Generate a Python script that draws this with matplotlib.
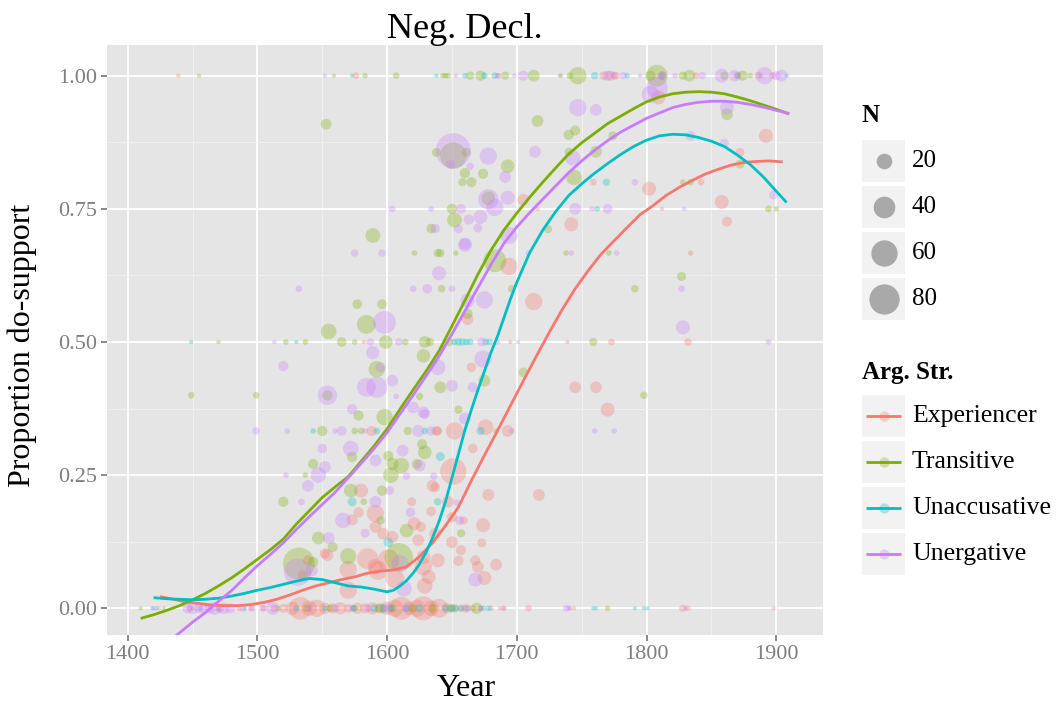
import numpy as np
import matplotlib
matplotlib.use("Agg")
import matplotlib.pyplot as plt
from matplotlib.patches import Rectangle

# ---------------- data ----------------
groups = ["Experiencer", "Transitive", "Unaccusative", "Unergative"]
colors = ["#F8766D", "#7CAE00", "#00BFC4", "#C77CFF"]

# (year, proportion, N) per argument-structure group
experiencer_pts = [
    (1424,0,1),(1448,0,2),(1486,0,2),(1495,0,2),(1505,0,3),(1513,0,4),(1520,0,6),(1527,0,15),(1533,0,45),
    (1540,0,20),(1546,0,25),(1552,0,10),(1558,0,8),(1564,0,12),(1570,0,6),(1577,0,10),(1583,0,8),(1589,0,12),
    (1595,0,8),(1600,0,15),(1606,0,25),(1611,0,45),(1617,0,15),(1623,0,25),(1628,0,50),(1634,0,20),(1640,0,30),
    (1646,0,8),(1652,0,5),(1657,0,4),(1661,0,6),(1666,0,3),(1672,0,2),(1680,0,2),(1687,0,1),(1690,0,2),
    (1709,0,3),(1741,0,1),(1744,0,1),(1828,0,4),(1832,0,2),(1898,0,1),
    (1439,1,1),(1576,1,3),(1686,1,2),(1767,1,6),(1772,1,8),(1776,1,5),(1812,1,6),(1838,1,3),(1870,1,4),
    (1886,1,4),(1897,1,3),
    (1705,.767,11),(1716,.75,1),(1742,.721,16),(1858,.763,16),(1862,.726,8),(1892,.887,16),(1872,.856,6),
    (1809,.959,16),(1802,.788,16),(1759,.8,3),(1842,.8,3),(1812,.75,1),(1834,.667,2),(1832,.5,4),(1739,.5,1),
    (1773,.5,3),(1582,.5,1),(1695,.5,1),(1713,.576,25),(1694,.642,25),(1662,.543,11),(1745,.415,11),
    (1761,.415,11),(1770,.373,16),(1665,.4525,7),(1638,.333,7),(1652,.333,25),(1676,.34,20),(1693,.333,11),
    (1588,.333,8),(1639,.333,6),(1651,.257,60),(1666,.3,7),(1635,.23,11),(1637,.2275,7),(1678,.213,11),
    (1717,.213,11),(1647,.2,11),(1619,.2,6),(1634,.182,7),(1674,.156,16),(1659,.165,5),(1650,.171,8),
    (1650,.124,11),(1673,.123,6),(1657,.109,8),(1639,.09,16),(1655,.089,8),(1668,.09,8),(1670,.078,11),
    (1684,.082,11),(1675,.057,16),(1629,.042,20),(1628,.078,25),(1632,.059,16),(1626,.153,8),(1624,.128,11),
    (1621,.159,14),(1628,.096,16),(1637,.14,11),(1604,.134,11),(1591,.178,25),(1578,.18,8),(1591,.153,11),
    (1597,.14,11),(1573,.166,10),(1554,.1,11),(1570,.073,25),(1585,.093,38),(1591,.078,20),(1570,.034,25),
    (1580,.221,16),(1601,.09,40),(1593,.071,30),(1606,.056,30),(1539,.09,8),(1552,.103,8),(1535,.062,8),
]

transitive_pts = [
    (1410,0,1),(1428,0,1),(1450,0,1),(1470,0,2),(1516,0,2),(1538,0,4),(1556,0,4),(1575,0,3),(1594,0,6),
    (1604,0,5),(1620,0,5),(1635,0,6),(1650,0,5),(1669,0,10),(1770,0,2),
    (1455,1,1),(1559,1,1),(1583,1,2),(1607,1,3),(1643,1,2),(1645,1,2),(1647,1,2),(1664,1,5),(1672,1,8),
    (1691,1,5),(1713,1,11),(1734,1,1),(1741,1,3),(1747,1,25),(1803,1,8),(1808,1,40),(1828,1,5),(1833,1,11),
    (1860,1,5),(1874,1,8),(1880,1,2),
    (1470,.5,1),(1522,.5,2),(1537,.5,2),(1565,.5,7),(1575,.5,2),(1599,.5,15),(1614,.5,3),(1629,.5,11),
    (1633,.5,5),(1648,.5,5),(1759,.5,5),
    (1553,.909,9),(1634,.713,7),(1650,.75,8),(1652,.729,18),(1589,.7,18),(1621,.667,2),(1639,.667,5),
    (1641,.667,5),(1653,.667,2),(1642,.6,4),(1577,.571,7),(1596,.571,7),(1584,.533,30),(1555,.52,20),
    (1449,.4,3),(1499,.4,3),(1554,.4,8),(1550,.333,8),(1575,.333,3),(1580,.333,3),(1616,.333,5),(1684,.333,2),
    (1543,.271,8),(1520,.2,8),(1572,.221,15),(1582,.2,3),(1596,.221,8),(1595,.165,5),(1547,.132,13),
    (1558,.115,8),(1570,.098,22),(1532,.084,90),(1543,.087,8),(1609,.096,70),(1601,.286,8),(1603,.25,20),
    (1611,.268,20),(1623,.271,8),(1627,.308,8),(1629,.293,15),(1615,.146,15),(1655,.373,5),(1628,.474,15),
    (1675,.4275,11),(1641,.415,11),(1705,.443,7),(1798,.4,4),(1657,.141,5),(1716,.915,11),(1745,.897,8),
    (1740,.889,8),(1774,.887,6),(1761,.857,11),(1740,.857,5),(1744,.809,20),(1828,.8,2),(1834,.8,3),
    (1724,.712,5),(1894,.75,3),(1900,.75,2),(1862,.9275,11),(1872,.834,6),(1771,.667,2),(1738,.667,2),
    (1827,.623,6),(1791,.6,4),(1683,.6525,45),(1693,.83,15),(1674,.816,8),(1661,.856,6),(1651,.85,60),
    (1638,.856,6),(1660,.817,8),(1658,.8,5),(1665,.8,8),(1678,.77,15),(1696,.6,4),(1662,.553,8),(1537,.25,2),
    (1592,.449,22),(1625,.398,4),(1578,.362,8),(1598,.359,22),(1573,.284,8),(1604,.271,12),
]

unaccusative_pts = [
    (1419,0,1),(1422,0,1),(1456,0,1),(1490,0,1),(1530,0,2),(1552,0,2),(1574,0,3),(1590,0,4),(1597,0,5),
    (1603,0,3),(1615,0,4),(1625,0,5),(1645,0,3),(1649,0,4),(1653,0,3),(1657,0,2),(1662,0,2),(1674,0,2),
    (1678,0,2),(1759,0,1),(1761,0,1),(1791,0,1),(1798,0,1),(1801,0,1),
    (1573,1,1),(1638,1,1),(1660,1,2),(1675,1,3),(1683,1,3),(1760,1,4),(1785,1,2),(1812,1,2),(1870,1,2),
    (1908,1,1),
    (1449,.5,1),(1530,.5,1),(1652,.5,3),(1655,.5,4),(1658,.5,4),(1661,.5,3),(1664,.5,3),(1676,.5,3),
    (1679,.5,3),
    (1543,.333,2),(1592,.333,3),(1629,.333,3),(1672,.333,5),(1573,.2,6),(1601,.124,7),(1641,.285,6),
    (1639,.2,4),(1769,.8,4),(1762,.75,2),
]

unergative_pts = [
    (1420,0,1),(1446,0,8),(1450,0,11),(1455,0,6),(1459,0,11),(1463,0,8),(1467,0,14),(1471,0,6),(1474,0,11),
    (1479,0,8),(1489,0,4),(1496,0,3),(1504,0,3),(1512,0,14),(1540,0,4),(1560,0,5),(1573,0,3),(1585,0,4),
    (1600,0,6),(1615,0,3),(1660,0,2),(1672,0,2),(1690,0,1),(1738,0,3),(1740,0,2),(1830,0,1),
    (1552,1,1),(1653,1,1),(1685,1,2),(1698,1,1),(1705,1,8),(1733,1,1),(1770,1,8),(1775,1,4),(1782,1,4),
    (1795,1,1),(1812,1,6),(1822,1,2),(1843,1,4),(1858,1,16),(1868,1,11),(1888,1,2),(1891,1,25),(1900,1,6),
    (1904,1,11),
    (1513,.5,1),(1587,.5,4),(1609,.5,4),(1673,.5,6),(1685,.5,2),(1701,.5,1),(1894,.5,2),
    (1604,.75,3),(1634,.75,2),(1657,.75,7),(1745,.75,11),(1758,.75,2),(1770,.75,7),(1829,.75,1),
    (1575,.667,4),(1596,.667,4),(1742,.667,2),(1777,.667,2),(1709,.667,2),
    (1532,.6,3),(1620,.6,3),(1631,.6,7),(1650,.6,3),(1827,.6,3),
    (1499,.333,4),(1523,.333,2),(1560,.333,2),(1565,.333,7),(1583,.333,2),(1624,.333,11),(1634,.333,7),
    (1696,.333,2),(1760,.333,2),(1775,.333,2),
    (1520,.455,8),(1554,.4,32),(1572,.3,20),(1550,.3,7),(1552,.265,11),(1547,.25,20),(1539,.23,11),
    (1522,.25,2),(1534,.2,3),(1591,.2,11),(1602,.221,6),(1566,.165,20),(1583,.141,6),(1555,.132,11),
    (1531,.068,65),(1542,.071,11),(1610,.084,25),(1613,.037,20),(1612,.296,11),(1615,.248,4),(1625,.268,11),
    (1618,.18,7),(1598,.537,45),(1655,.7125,6),(1660,.684,11),(1637,.713,7),(1640,.629,16),(1650,.418,11),
    (1639,.4525,20),(1674,.468,25),(1651,.859,110),(1747,.94,25),(1761,.936,11),(1714,.857,11),
    (1743,.846,20),(1791,.8,3),(1808,.9775,40),(1803,.965,25),(1862,.94,16),(1834,.887,7),(1860,.873,6),
    (1898,.776,6),(1828,.5275,16),(1678,.849,25),(1664,.83,4),(1649,.833,6),(1678,.768,35),(1683,.7525,25),
    (1693,.771,16),(1663,.73,8),(1672,.735,16),(1660,.6825,16),(1670,.714,6),(1694,.7,25),(1675,.579,25),
    (1662,.5775,16),(1691,.81,11),(1660,.356,11),(1628,.368,11),(1636,.248,4),(1668,.054,16),(1654,.198,3),
    (1656,.165,6),(1589,.48,14),(1595,.4525,8),(1592,.415,38),(1584,.415,30),(1604,.4275,11),(1666,.415,8),
    (1607,.398,2),(1620,.377,11),(1629,.365,8),(1573,.374,8),(1591,.2775,11),
]

# smoothed trend lines
experiencer_curve_year = [1425,1435,1445,1455,1465,1475,1485,1495,1505,1515,1525,1535,1545,1555,1565,1575,
                          1585,1595,1605,1615,1625,1635,1645,1655,1665,1675,1685,1695,1705,1715,1725,1735,
                          1745,1755,1765,1775,1785,1795,1805,1815,1825,1835,1845,1855,1865,1875,1885,1895,1905]
experiencer_curve_prop = [0.022,0.017,0.012,0.009,0.006,0.005,0.005,0.007,0.011,0.017,0.025,0.034,0.042,0.048,
                          0.054,0.059,0.066,0.070,0.072,0.078,0.097,0.123,0.155,0.19,0.24,0.287,0.333,0.38,
                          0.427,0.473,0.518,0.561,0.60,0.634,0.665,0.69,0.715,0.739,0.756,0.775,0.79,0.803,
                          0.815,0.824,0.832,0.837,0.839,0.840,0.838]
transitive_curve_year = [1410,1420,1430,1440,1450,1460,1470,1480,1490,1500,1510,1520,1530,1540,1550,1560,1570,
                         1580,1590,1600,1610,1620,1630,1640,1650,1660,1670,1680,1690,1700,1710,1720,1730,1740,
                         1750,1760,1770,1780,1790,1800,1810,1820,1830,1840,1850,1860,1870,1880,1890,1900,1910]
transitive_curve_prop = [-0.019,-0.012,-0.004,0.005,0.016,0.028,0.042,0.057,0.074,0.092,0.11,0.13,0.158,0.183,
                         0.208,0.228,0.247,0.276,0.305,0.337,0.374,0.41,0.445,0.483,0.53,0.578,0.627,0.672,0.71,
                         0.742,0.772,0.80,0.827,0.853,0.874,0.892,0.91,0.924,0.938,0.951,0.96,0.966,0.969,0.970,
                         0.969,0.966,0.96,0.953,0.945,0.937,0.928]
unaccusative_curve_year = [1420,1430,1440,1450,1460,1470,1480,1490,1500,1510,1520,1530,1540,1550,1560,1570,1580,
                           1590,1600,1605,1610,1615,1620,1625,1630,1635,1640,1645,1650,1655,1660,1665,1670,1675,
                           1680,1685,1690,1695,1700,1710,1720,1730,1740,1750,1760,1770,1780,1790,1800,1810,1820,
                           1830,1840,1850,1860,1870,1880,1890,1900,1908]
unaccusative_curve_prop = [0.02,0.018,0.017,0.016,0.017,0.019,0.023,0.028,0.034,0.039,0.045,0.051,0.056,0.054,
                           0.048,0.042,0.04,0.036,0.031,0.034,0.042,0.052,0.066,0.083,0.105,0.132,0.163,0.2,0.245,
                           0.29,0.335,0.373,0.41,0.445,0.48,0.51,0.545,0.58,0.612,0.668,0.71,0.745,0.775,0.797,
                           0.817,0.835,0.852,0.867,0.879,0.887,0.89,0.889,0.884,0.877,0.867,0.851,0.833,0.81,
                           0.783,0.762]
unergative_curve_year = [1430,1440,1450,1460,1470,1480,1490,1500,1510,1520,1530,1540,1550,1560,1570,1580,1590,
                         1600,1610,1620,1630,1640,1650,1660,1670,1680,1690,1700,1710,1720,1730,1740,1750,1760,
                         1770,1780,1790,1800,1810,1820,1830,1840,1850,1860,1870,1880,1890,1900,1910]
unergative_curve_prop = [-0.065,-0.046,-0.026,-0.008,0.013,0.033,0.057,0.08,0.101,0.123,0.148,0.172,0.195,0.218,
                         0.245,0.272,0.30,0.33,0.365,0.40,0.436,0.473,0.515,0.558,0.602,0.645,0.685,0.716,0.743,
                         0.768,0.793,0.818,0.84,0.86,0.878,0.894,0.907,0.92,0.93,0.94,0.946,0.950,0.952,0.952,
                         0.950,0.946,0.941,0.935,0.929]

x_ticks = [1400, 1500, 1600, 1700, 1800, 1900]
y_ticks = [0.0, 0.25, 0.50, 0.75, 1.00]
y_tick_labels = ["0.00", "0.25", "0.50", "0.75", "1.00"]
size_legend_values = [20, 40, 60, 80]

# ---------------- style ----------------
plt.rcParams['font.family'] = ['Liberation Serif', 'DejaVu Serif']
W, H = 1060, 705
POINT_ALPHA = 0.3


def marker_area(n):
    d_px = 1.0 + 3.27 * np.sqrt(np.asarray(n, dtype=float))
    return (d_px * 72.0 / 100.0) ** 2


fig = plt.figure(figsize=(W / 100, H / 100), dpi=100)
fig.patch.set_facecolor("white")

px_left, px_right, px_top, px_bottom = 107.3, 822.7, 45, 635
ax = fig.add_axes([px_left / W, 1 - px_bottom / H, (px_right - px_left) / W, (px_bottom - px_top) / H])
ax.set_facecolor("#E5E5E5")
for s in ax.spines.values():
    s.set_visible(False)
ax.set_xlim(1384.3, 1935.8)
ax.set_ylim(-0.0501, 1.0576)
ax.set_xticks(x_ticks)
ax.set_yticks(y_ticks)
ax.set_yticklabels(y_tick_labels)
ax.set_xticks([1450, 1550, 1650, 1750, 1850], minor=True)
ax.set_yticks([0.125, 0.375, 0.625, 0.875], minor=True)
ax.grid(which="major", color="white", linewidth=1.3)
ax.grid(which="minor", color="#F2F2F2", linewidth=0.6)
ax.set_axisbelow(True)
ax.tick_params(which="major", length=4, width=1.3, color="#7F7F7F", labelcolor="#7F7F7F",
               labelsize=16, pad=3)
ax.tick_params(which="minor", length=0)

all_pts = [experiencer_pts, transitive_pts, unaccusative_pts, unergative_pts]
for pts, col in zip(all_pts, colors):
    arr = np.array(pts, dtype=float)
    ax.scatter(arr[:, 0], arr[:, 1], s=marker_area(arr[:, 2]), color=col, alpha=POINT_ALPHA,
               linewidths=0, zorder=2)

curves = [(experiencer_curve_year, experiencer_curve_prop),
          (transitive_curve_year, transitive_curve_prop),
          (unaccusative_curve_year, unaccusative_curve_prop),
          (unergative_curve_year, unergative_curve_prop)]
for (cx, cy), col in zip(curves, colors):
    ax.plot(cx, cy, color=col, linewidth=2.0, zorder=3, solid_capstyle="butt")

# titles
fig.text(465 / W, 1 - 30 / H, "Neg. Decl.", ha="center", va="center", fontsize=26)
fig.text(466 / W, 1 - 688 / H, "Year", ha="center", va="center", fontsize=23)
fig.text(22 / W, 1 - 345 / H, "Proportion do-support", ha="center", va="center", rotation=90, fontsize=23)

# ---------------- legends (drawn in pixel space) ----------------
lax = fig.add_axes([0, 0, 1, 1])
lax.set_xlim(0, W)
lax.set_ylim(H, 0)
lax.axis("off")

key_x0, key_w, key_h = 862, 43, 42
lax.text(key_x0, 116, "N", fontsize=18, fontweight="bold", va="center", ha="left")
size_key_tops = [140, 186, 232, 278]
for top, val in zip(size_key_tops, size_legend_values):
    lax.add_patch(Rectangle((key_x0, top), key_w, key_h, facecolor="#F2F2F2", edgecolor="none"))
    lax.scatter([key_x0 + key_w / 2], [top + key_h / 2], s=marker_area(val), color="black",
                alpha=POINT_ALPHA, linewidths=0)
    lax.text(912, top + key_h / 2, str(val), fontsize=18, va="center", ha="left")

lax.text(key_x0, 372, "Arg. Str.", fontsize=18, fontweight="bold", va="center", ha="left")
col_key_tops = [395, 441, 487, 533]
for top, name, col in zip(col_key_tops, groups, colors):
    lax.add_patch(Rectangle((key_x0, top), key_w, key_h, facecolor="#F2F2F2", edgecolor="none"))
    cy = top + key_h / 2
    lax.plot([key_x0 + 4, key_x0 + key_w - 4], [cy, cy], color=col, linewidth=2.0,
             solid_capstyle="butt")
    lax.scatter([key_x0 + key_w / 2], [cy], s=marker_area(8), color=col, alpha=POINT_ALPHA,
                linewidths=0, zorder=3)
    lax.text(912, cy, name, fontsize=18.5, va="center", ha="left")

fig.savefig("out.png", dpi=100)
